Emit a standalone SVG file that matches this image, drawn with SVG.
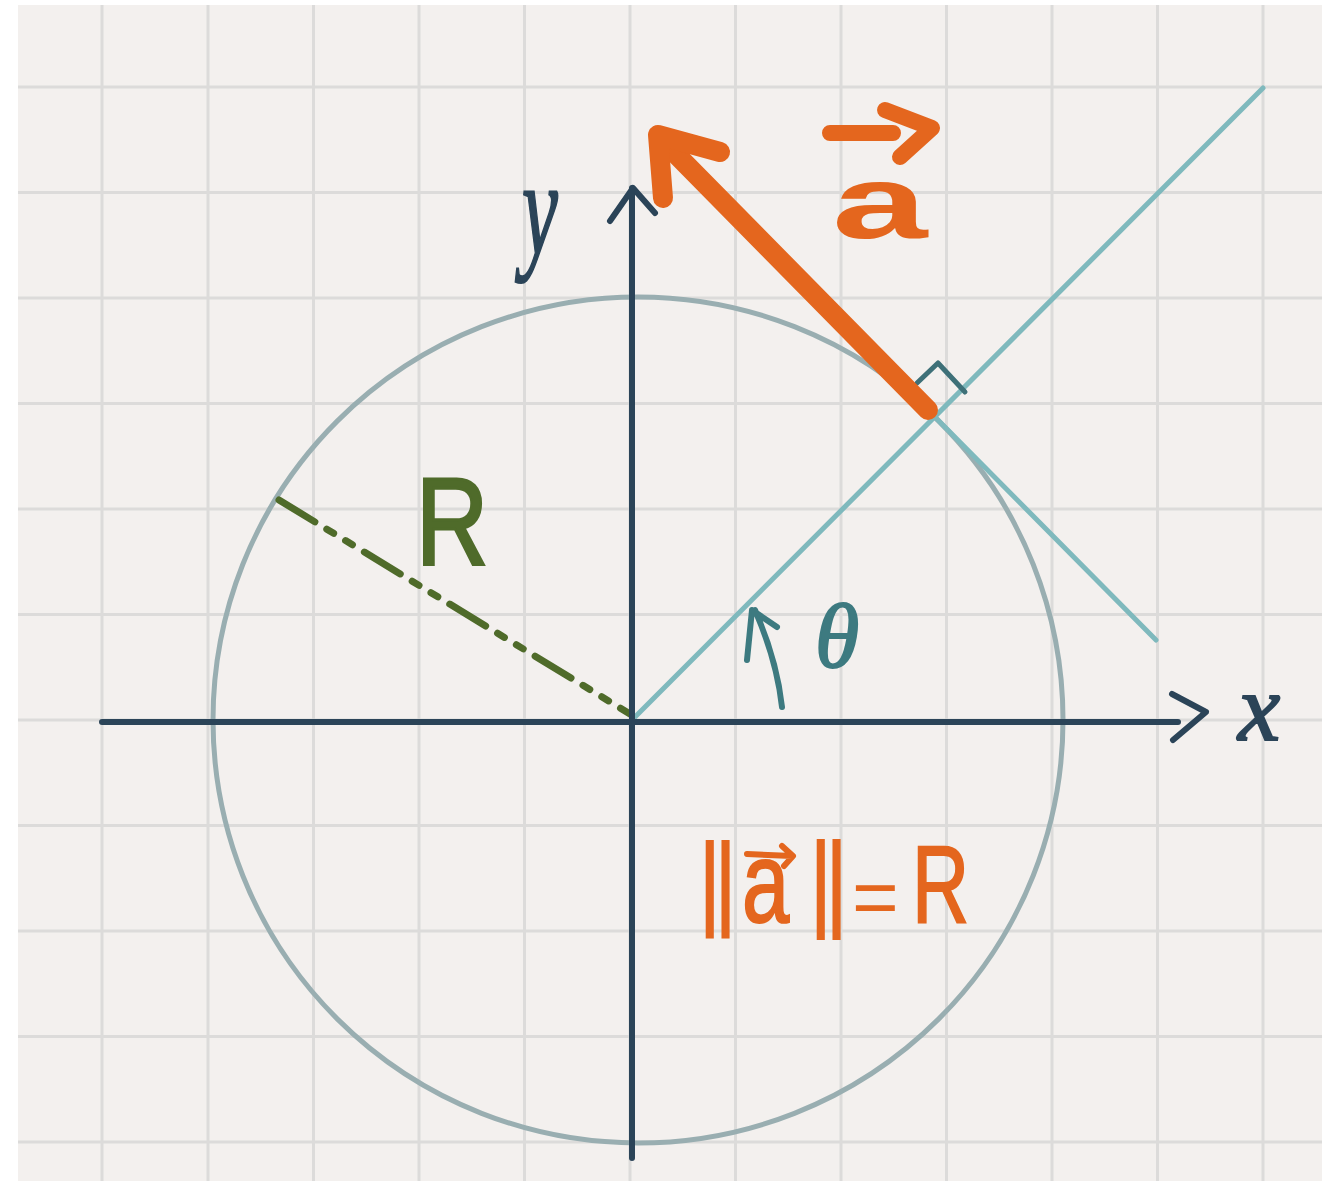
<svg xmlns="http://www.w3.org/2000/svg" width="1322" height="1181" viewBox="0 0 1322 1181">
<defs>
<style>
.grid line{stroke:#dcdbda;stroke-width:3}
.axis{stroke:#2b4458;stroke-width:6;fill:none;stroke-linecap:round;stroke-linejoin:round}
.teal{stroke:#7fb9bd;stroke-width:5;fill:none;stroke-linecap:round}
.orange{stroke:#e4661e;fill:none;stroke-linecap:round;stroke-linejoin:round}
.lbl{font-family:"Liberation Sans",Arial,sans-serif}
.serif{font-family:"Liberation Serif","Times New Roman",serif;font-style:italic}
</style>
</defs>
<rect x="0" y="0" width="1322" height="1181" fill="#ffffff"/>
<rect x="18" y="5" width="1304" height="1176" fill="#f3f0ee"/>
<g id="grid" class="grid">
<line x1="102" y1="5" x2="102" y2="1181"/>
<line x1="208" y1="5" x2="208" y2="1181"/>
<line x1="313.5" y1="5" x2="313.5" y2="1181"/>
<line x1="419" y1="5" x2="419" y2="1181"/>
<line x1="524.5" y1="5" x2="524.5" y2="1181"/>
<line x1="630" y1="5" x2="630" y2="1181"/>
<line x1="735.5" y1="5" x2="735.5" y2="1181"/>
<line x1="841" y1="5" x2="841" y2="1181"/>
<line x1="946.5" y1="5" x2="946.5" y2="1181"/>
<line x1="1052" y1="5" x2="1052" y2="1181"/>
<line x1="1157.5" y1="5" x2="1157.5" y2="1181"/>
<line x1="1263" y1="5" x2="1263" y2="1181"/>
<line x1="18" y1="87" x2="1322" y2="87"/>
<line x1="18" y1="192.5" x2="1322" y2="192.5"/>
<line x1="18" y1="298" x2="1322" y2="298"/>
<line x1="18" y1="403.5" x2="1322" y2="403.5"/>
<line x1="18" y1="509" x2="1322" y2="509"/>
<line x1="18" y1="614.5" x2="1322" y2="614.5"/>
<line x1="18" y1="720" x2="1322" y2="720"/>
<line x1="18" y1="825.5" x2="1322" y2="825.5"/>
<line x1="18" y1="931" x2="1322" y2="931"/>
<line x1="18" y1="1036.5" x2="1322" y2="1036.5"/>
<line x1="18" y1="1142" x2="1322" y2="1142"/>
</g>
<g id="circle">
<ellipse cx="638" cy="720" rx="425" ry="423" fill="none" stroke="#99aeb1" stroke-width="5"/>
</g>
<g id="connectors">
<path id="radius-R" d="M279,500 L630,714" stroke="#4f6b2a" stroke-width="7" stroke-linecap="round" fill="none" stroke-dasharray="42 14 8 14 8 14"/>
<line id="radial-line" class="teal" x1="632" y1="720" x2="1263" y2="88"/>
<line id="tangent-line" class="teal" x1="933" y1="415" x2="1156" y2="640"/>
<path id="right-angle" d="M917,383 L938,363 L965,392" fill="none" stroke="#3e7078" stroke-width="5" stroke-linecap="round" stroke-linejoin="round"/>
<path id="theta-arrow" d="M782,707 C778,670 768,640 755,610 M747,660 L752,610 L777,627" fill="none" stroke="#3d7a80" stroke-width="6" stroke-linecap="round" stroke-linejoin="round"/>
</g>
<g id="x-axis">
<line class="axis" x1="102" y1="722" x2="1178" y2="722"/>
<path class="axis" d="M1172,694 L1206,712 L1173,740" stroke-width="8"/>
</g>
<g id="y-axis">
<line class="axis" x1="632" y1="1158" x2="632" y2="188"/>
<path class="axis" d="M610,221 L633,188 L655,213"/>
</g>
<g id="vector-a">
<line class="orange" x1="928" y1="410" x2="662" y2="140" stroke-width="20"/>
<path class="orange" d="M720,152 L658,135 L663,198" stroke-width="20"/>
</g>
<g id="labels">
<text class="serif" x="0" y="0" transform="translate(522,254) scale(0.62,1.05)" font-size="130" fill="#2b4458" stroke="#2b4458" stroke-width="2">y</text>
<text class="serif" x="1238" y="740" font-size="95" fill="#2b4458" stroke="#2b4458" stroke-width="2">x</text>
<text id="label-R" class="lbl" x="0" y="0" transform="translate(416,565) scale(0.8,1)" font-size="125" fill="#4f6b2a" stroke="#4f6b2a" stroke-width="3">R</text>
<text id="label-theta" class="serif" x="815" y="667" font-size="90" fill="#3d7a80" stroke="#3d7a80" stroke-width="2">θ</text>
<g id="label-vec-a">
<path class="orange" d="M830,133 L893,133 M885,110 L932,128 L900,157" stroke-width="16"/>
<text class="lbl" x="0" y="0" transform="translate(832,238) scale(1.65,1)" font-size="104" font-weight="bold" fill="#e4661e">a</text>
</g>
<g id="label-norm">
<text class="lbl" x="0" y="0" transform="translate(697,938) scale(1,1.35)" font-size="100" fill="#e4661e">‖</text>
<text class="lbl" x="0" y="0" transform="translate(742,922) scale(1,1.35)" font-size="85" fill="#e4661e" stroke="#e4661e" stroke-width="1.5">a</text>
<path class="orange" d="M747,854 L792,856 M782,846 L793,856 L784,866" stroke-width="6"/>
<text class="lbl" x="0" y="0" transform="translate(808,940) scale(1,1.4)" font-size="100" fill="#e4661e">‖</text>
<text class="lbl" x="852" y="924" font-size="80" fill="#e4661e">=</text>
<text class="lbl" x="0" y="0" transform="translate(912,922) scale(0.72,1)" font-size="110" fill="#e4661e" stroke="#e4661e" stroke-width="2">R</text>
</g>
</g>
</svg>
